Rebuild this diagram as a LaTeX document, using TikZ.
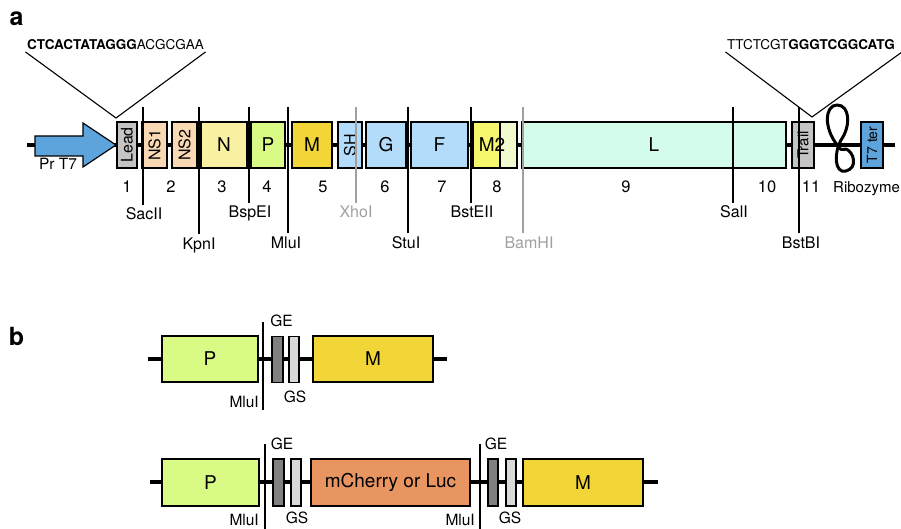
\documentclass[tikz,border=0pt]{standalone}
\usepackage{fontspec}
\usepackage{graphicx}
\setmainfont{TeX Gyre Heros}
\newcommand{\fsz}[1]{\fontsize{#1}{#1}\selectfont}
\definecolor{cGray}{HTML}{C4C4C4}
\definecolor{cNS}{HTML}{F8D9B4}
\definecolor{cN}{HTML}{FAF0A2}
\definecolor{cP}{HTML}{DAFA86}
\definecolor{cM}{HTML}{F2D638}
\definecolor{cG}{HTML}{B3DCFA}
\definecolor{cMtwo}{HTML}{F7F76E}
\definecolor{cMtwoL}{HTML}{F1F9CF}
\definecolor{cL}{HTML}{D4FCEA}
\definecolor{cBlue}{HTML}{5DA3DC}
\definecolor{cOr}{HTML}{E89562}
\definecolor{cGE}{HTML}{808080}
\definecolor{cGS}{HTML}{D9D9D9}
\definecolor{cRes}{HTML}{A0A0A0}
\begin{document}
\begin{tikzpicture}[x=1pt,y=-1pt,
  bx/.style={draw=black, line width=1.7pt, minimum height=46pt, inner sep=0pt, font=\fsz{19}},
  rbx/.style={bx, font=\fsz{16}},
  bb/.style={line width=3.4pt, black},
  rl/.style={line width=1.1pt, black},
  rlg/.style={line width=1.1pt, cRes},
  lab/.style={font=\fsz{16}, inner sep=3pt, anchor=base},
  labg/.style={lab, text=cRes},
  num/.style={font=\fsz{16.5}, inner sep=0pt, anchor=base},
  blab/.style={font=\fsz{15.5}, inner sep=0pt, anchor=base},
  seq/.style={font=\fsz{13.5}, inner sep=1.5pt, anchor=base}]
\useasboundingbox (0,0) rectangle (901,529);
% panel labels
\node[font=\fsz{25}\bfseries, inner sep=0pt] (pa) at (16.5,19) {a};
\node[font=\fsz{25}\bfseries, inner sep=0pt] (pb) at (16.5,336) {b};
% ---------------- panel a ----------------
\coordinate (bbL) at (27,145);
\coordinate (bbR) at (895,145);
\draw[bb] (bbL) -- (bbR);
% promoter arrow
\draw[fill=cBlue, line width=1.2pt, line join=miter]
  (35,136) -- (83,136) -- (83,123) -- (116,145) -- (83,167) -- (83,156) -- (35,156) -- cycle;
\node[font=\fsz{15.5}, inner sep=0pt] (prt7) at (58,164) {Pr T7};
% boxes
\node[rbx, fill=cGray, minimum width=20pt] (lead) at (127,145) {\rotatebox{90}{Lead}};
\node[rbx, fill=cNS, minimum width=25pt] (ns1) at (154.5,145) {\rotatebox{90}{NS1}};
\node[rbx, fill=cNS, minimum width=25pt] (ns2) at (184.5,145) {\rotatebox{90}{NS2}};
\node[bx, fill=cN, minimum width=46pt] (N) at (224,145) {N};
\node[bx, fill=cP, minimum width=34pt] (P) at (268,145) {P};
\node[bx, fill=cM, minimum width=40pt] (M) at (312,145) {M};
\node[rbx, fill=cG, minimum width=24pt] (SH) at (350,145) {\rotatebox{90}{SH}};
\node[bx, fill=cG, minimum width=40pt] (G) at (386,145) {G};
\node[bx, fill=cG, minimum width=57pt] (F) at (439.5,145) {F};
\node[bx, fill=cMtwo, minimum width=27pt] (m2a) at (486.5,145) {};
\node[bx, fill=cMtwoL, minimum width=17pt] (m2b) at (508.5,145) {};
\node[font=\fsz{19}, inner sep=0pt] (m2lbl) at (492,145) {M2};
\node[bx, fill=cL, minimum width=264pt] (L) at (654,145) {L};
\node[rbx, fill=cGray, minimum width=22pt, font=\fsz{15}] (trail) at (803,145) {\rotatebox{90}{Trail}};
\node[rbx, fill=cBlue, minimum width=22pt, font=\fsz{14}] (t7ter) at (872,145) {\rotatebox{90}{T7 ter}};
% ribozyme
\draw[line width=3pt, line cap=round]
  (838,146) .. controls (823,128) and (825,105) .. (837,105)
  .. controls (850,105) and (851,126) .. (841,140)
  .. controls (834,152) and (834,174) .. (846,171)
  .. controls (858,168) and (854,152) .. (846,149);
\draw[line width=3pt] (838,146) .. controls (840,150) and (842,150) .. (846,149);
\node[font=\fsz{15}, inner sep=0pt, anchor=base west] (ribo) at (833,193) {Ribozyme};
% sequences
\node[seq] (seqL) at (115.5,50) {\textbf{CTCACTATAGGG}ACGCGAA};
\coordinate (apL) at (116,118);
\draw[line width=1.1pt] (seqL.south west) -- (apL) -- (seqL.south east);
\node[seq] (seqR) at (811,50) {TTCTCGT\textbf{GGGTCGGCATG}};
\coordinate (apR) at (812,117);
\coordinate (vR2) at (902,52);
\draw[line width=1.1pt] (seqR.south west) -- (apR) -- (vR2);
% numbers
\node[num] (n1) at (127,193) {1};
\node[num] (n2) at (171,193) {2};
\node[num] (n3) at (222,193) {3};
\node[num] (n4) at (267,193) {4};
\node[num] (n5) at (323,193) {5};
\node[num] (n6) at (385,193) {6};
\node[num] (n7) at (442,193) {7};
\node[num] (n8) at (497,193) {8};
\node[num] (n9) at (626,193) {9};
\node[num] (n10) at (767,193) {10};
\node[num] (n11) at (811,193) {11};
% restriction sites
\coordinate (sacT) at (143,107);  \node[lab] (sac) at (144,220) {SacII};   \draw[rl] (sacT) -- (sac.north -| sacT);
\coordinate (kpnT) at (199,107);  \node[lab] (kpn) at (199,249) {KpnI};    \draw[rl] (kpnT) -- (kpn.north -| kpnT);
\coordinate (bspT) at (249,107);  \node[lab] (bsp) at (250,218) {BspEI};   \draw[rl] (bspT) -- (bsp.north -| bspT);
\coordinate (mluT) at (288,107);  \node[lab] (mlu) at (286,248) {MluI};    \draw[rl] (mluT) -- (mlu.north -| mluT);
\coordinate (xhoT) at (356,107);  \node[labg] (xho) at (356,218) {XhoI};   \draw[rlg] (xhoT) -- (xho.north -| xhoT);
\coordinate (stuT) at (408,107);  \node[lab] (stu) at (406,248) {StuI};    \draw[rl] (stuT) -- (stu.north -| stuT);
\coordinate (bstT) at (471,107);  \node[lab] (bst) at (472,218) {BstEII};  \draw[rl] (bstT) -- (bst.north -| bstT);
\coordinate (bamT) at (523,107);  \node[labg] (bam) at (529,248) {BamHI};  \draw[rlg] (bamT) -- (bam.north -| bamT);
\coordinate (salT) at (733,107);  \node[lab] (sal) at (734,218) {SalI};    \draw[rl] (salT) -- (sal.north -| salT);
\coordinate (bsbT) at (799,107);  \node[lab] (bsb) at (801,248) {BstBI};   \draw[rl] (bsbT) -- (bsb.north -| bsbT);
% ---------------- panel b, row 1 ----------------
\coordinate (r1L) at (148,359);
\coordinate (r1R) at (447,359);
\draw[bb] (r1L) -- (r1R);
\node[bx, fill=cP, minimum width=96pt] (bP1) at (210,359) {P};
\node[bx, fill=cGE, minimum width=11pt] (ge1) at (277.5,359.5) {};
\node[bx, fill=cGS, minimum width=10pt] (gs1) at (294,359.5) {};
\node[bx, fill=cM, minimum width=120pt] (bM1) at (373,359) {M};
\coordinate (mlu1T) at (263,322);
\coordinate (mlu1B) at (263,410);
\draw[rl] (mlu1T) -- (mlu1B);
\node[blab, anchor=base east] (mlu1) at (259,407) {MluI};
\node[blab] (ge1l) at (281.5,326) {GE};
\node[blab] (gs1l) at (295,402) {GS};
% ---------------- panel b, row 2 ----------------
\coordinate (r2L) at (150,482);
\coordinate (r2R) at (658,482);
\draw[bb] (r2L) -- (r2R);
\node[bx, fill=cP, minimum width=97pt, minimum height=47pt] (bP2) at (210.5,482.5) {P};
\node[bx, fill=cGE, minimum width=11pt, minimum height=47pt] (ge2) at (278.5,482.5) {};
\node[bx, fill=cGS, minimum width=10pt, minimum height=47pt] (gs2) at (296,482.5) {};
\node[bx, fill=cOr, minimum width=159pt, minimum height=47pt] (mch) at (390.5,482.5) {mCherry or Luc};
\node[bx, fill=cGE, minimum width=10pt, minimum height=47pt] (ge3) at (493,482.5) {};
\node[bx, fill=cGS, minimum width=10pt, minimum height=47pt] (gs3) at (511,482.5) {};
\node[bx, fill=cM, minimum width=120pt, minimum height=47pt] (bM2) at (583,482.5) {M};
\coordinate (mlu2T) at (265,444);
\coordinate (mlu2B) at (265,529);
\draw[rl] (mlu2T) -- (mlu2B);
\coordinate (mlu3T) at (480,444);
\coordinate (mlu3B) at (480,529);
\draw[rl] (mlu3T) -- (mlu3B);
\node[blab, anchor=base east] (mlu2) at (259,525) {MluI};
\node[blab, anchor=base east] (mlu3) at (475,525) {MluI};
\node[blab] (ge2l) at (282,449) {GE};
\node[blab] (gs2l) at (297,523) {GS};
\node[blab] (ge3l) at (496,449) {GE};
\node[blab] (gs3l) at (510,523) {GS};
\end{tikzpicture}
\end{document}
